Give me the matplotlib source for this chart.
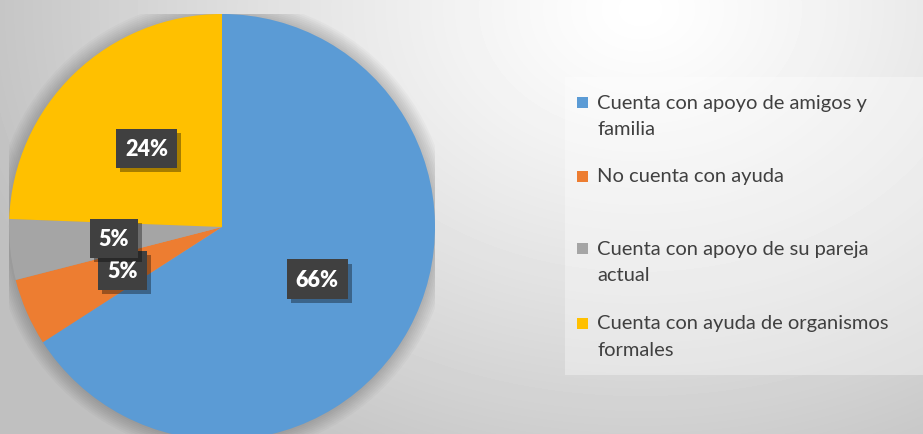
import matplotlib
matplotlib.use('Agg')
import matplotlib.pyplot as plt
import numpy as np
from matplotlib.patches import Rectangle, Circle
import matplotlib.patheffects as pe

categories = ["Cuenta con apoyo de amigos y\nfamilia",
              "No cuenta con ayuda",
              "Cuenta con apoyo de su pareja\nactual",
              "Cuenta con ayuda de organismos\nformales"]
values = [65.9, 5.1, 4.6, 24.4]
colors = ['#5B9BD5', '#ED7D31', '#A5A5A5', '#FFC000']

W, H = 923, 435
fig = plt.figure(figsize=(W / 100, H / 100), dpi=100)

# background radial gradient
bg = fig.add_axes([0, 0, 1, 1])
yy, xx = np.mgrid[0:H, 0:W]
d = np.hypot(xx - 640, (yy - 10) * 1.3)
v = 1 - 0.25 * np.clip(d / 700, 0, 1) ** 1.2
bg.imshow(v, cmap='gray', vmin=0, vmax=1, extent=[0, W, H, 0], aspect='auto', interpolation='bilinear')
bg.set_xlim(0, W)
bg.set_ylim(H, 0)
bg.axis('off')

# legend background box
bg.add_patch(Rectangle((565, 78), 360, 298, facecolor='white', alpha=0.35, edgecolor='none'))

# pie
cx, cy, r = 222, 228, 213
ax = fig.add_axes([(cx - r) / W, (H - cy - r) / H, 2 * r / W, 2 * r / H])
ax.patch.set_alpha(0)

# soft shadow around pie
for rr in np.linspace(1.07, 1.0, 9):
    ax.add_patch(Circle((0, 0), rr, facecolor='black', alpha=0.025, edgecolor='none', zorder=0))

wedges, texts, autotexts = ax.pie(values, colors=colors, startangle=90, counterclock=False,
                                  autopct=lambda p: f'{p:.0f}%', pctdistance=0.51,
                                  wedgeprops=dict(linewidth=0, zorder=1))
ax.set_xlim(-1, 1)
ax.set_ylim(-1, 1)
ax.set_aspect('equal')
ax.axis('off')

for t in autotexts:
    t.set_color('white')
    t.set_fontsize(15.5)
    t.set_fontweight('heavy')
    t.set_family('Lato')
    t.set_zorder(5)
    t.set_bbox(dict(boxstyle='square,pad=0.42', facecolor='#404040', edgecolor='none'))
    t.get_bbox_patch().set_path_effects([
        pe.SimplePatchShadow(offset=(3, -3), shadow_rgbFace='black', alpha=0.35), pe.Normal()])

# legend drawn manually
entry_y = [103, 177, 249, 324]
line_gap = 27
for cat, col, y in zip(categories, colors, entry_y):
    bg.add_patch(Rectangle((577, y - 5.5), 11, 11, facecolor=col, edgecolor='none'))
    for k, line in enumerate(cat.split('\n')):
        bg.text(597, y + k * line_gap, line, fontsize=14.5, family='Lato', color='#404040',
                va='center', ha='left')

fig.savefig('out.png', dpi=100)
